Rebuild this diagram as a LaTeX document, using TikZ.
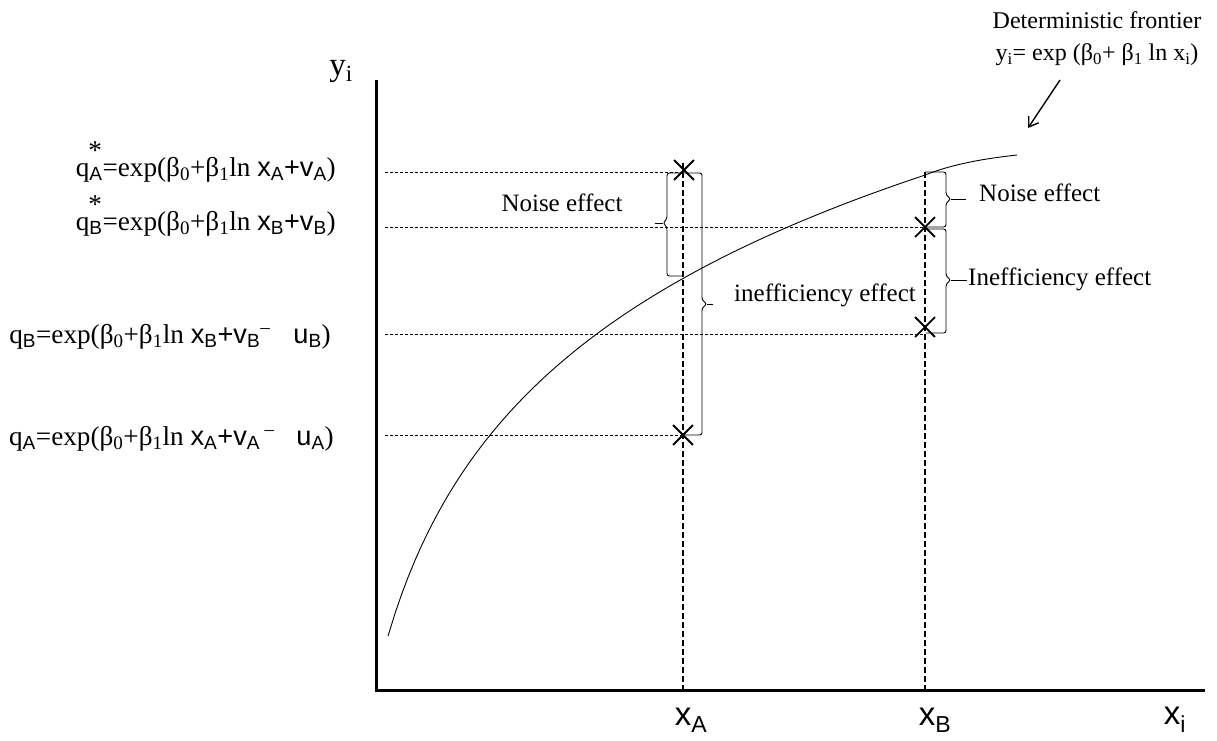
\documentclass[tikz,border=0pt]{standalone}
\usepackage{fontspec}
\setmainfont{Liberation Serif}
\setsansfont{Liberation Sans}
\usetikzlibrary{shapes.misc,arrows.meta}
\newcommand{\mysub}[1]{\textsubscript{#1}}
\newcommand{\ssub}[1]{\textsubscript{\sffamily #1}}
\newcommand{\myast}{\llap{\raisebox{0.6em}{*\hspace{0.5pt}}}}
\begin{document}
\begin{tikzpicture}[x=1pt,y=-1pt,
  axisline/.style={line width=3pt},
  guide/.style={line width=0.8pt, dash pattern=on 3pt off 2pt},
  drop/.style={line width=1.7pt, dash pattern=on 6pt off 3pt},
  xmark/.style={cross out, draw, line width=1.8pt, minimum size=18pt, inner sep=0pt},
  bracket/.style={line width=0.9pt, rounded corners=2.5pt},
  lbl/.style={font=\fontsize{25}{29}\selectfont, inner sep=0pt},
  formula/.style={font=\fontsize{27.2}{30}\selectfont, inner sep=0pt, anchor=base east},
  axlbl/.style={font=\sffamily\fontsize{33}{36}\selectfont, inner sep=0pt}]
\useasboundingbox (0,0) rectangle (1217,740);
% axes
\coordinate (O) at (376,690);
\coordinate (Ytop) at (376,80);
\coordinate (Xend) at (1205,690);
\draw[axisline] (Ytop) -- (O) -- (Xend);
\node[font=\fontsize{33}{36}\selectfont, inner sep=0pt] (ylbl) at (341,71) {y\mysub{i}};
\node[axlbl] (xAlbl) at (691,720) {x\textsubscript{A}};
\node[axlbl] (xBlbl) at (935,720) {x\textsubscript{B}};
\node[axlbl] (xilbl) at (1175,720) {x\textsubscript{i}};
% frontier
\coordinate (fEnd) at (1017,155);
\draw[line width=0.9pt] plot[domain=388:925, samples=80] (\x,{1440-198*ln(\x-330)})
  .. controls (955,163) and (990,158) .. (fEnd);
% points
\coordinate (XA) at (683,690);
\coordinate (XB) at (925,690);
\coordinate (TA) at (683,163);
\coordinate (TB) at (925,172);
\draw[drop] (TA) -- (XA);
\draw[drop] (TB) -- (XB);
\node[xmark] (qAs) at (684,170) {};
\node[xmark] (qA) at (683,435) {};
\node[xmark] (qBs) at (925,227) {};
\node[xmark] (qB) at (925,327) {};
% left labels
\node[formula] (LqAs) at (336,176) {q\ssub{A}\myast=exp(β\mysub{0}+β\mysub{1}ln {\sffamily x\ssub{A}+v\ssub{A}})};
\node[formula] (LqBs) at (336,230) {q\ssub{B}\myast=exp(β\mysub{0}+β\mysub{1}ln {\sffamily x\ssub{B}+v\ssub{B}})};
\node[formula] (LqB) at (331,343) {q\ssub{B}=exp(β\mysub{0}+β\mysub{1}ln {\sffamily x\ssub{B}+v\ssub{B}}\textsuperscript{–}\hspace{0.85em}{\sffamily u\ssub{B}})};
\node[formula] (LqA) at (334,445) {q\ssub{A}=exp(β\mysub{0}+β\mysub{1}ln {\sffamily x\ssub{A}+v\ssub{A}}\,\textsuperscript{–}\hspace{0.8em}{\sffamily u\ssub{A}})};
% guide lines
\coordinate (gAs) at (385,172);
\coordinate (gBs) at (385,227);
\coordinate (gB) at (385,334);
\coordinate (gA) at (385,435);
\draw[guide] (gAs) -- (gAs -| qAs);
\draw[guide] (gBs) -- (gBs -| qBs);
\draw[guide] (gB) -- (gB -| qB);
\draw[guide] (gA) -- (gA -| qA);
% braces
\draw[bracket] (683,173) -- (667,173) -- (667,219) -- (663,223) -- (667,227) -- (667,276) -- (683,276);
\coordinate (tipAn) at (663,223);
\coordinate (endAn) at (655,223);
\draw[line width=0.9pt] (tipAn) -- (endAn);
\draw[bracket] (683,173) -- (702,173) -- (702,300) -- (707,304) -- (702,308) -- (702,435) -- (684,435);
\coordinate (tipAi) at (707,304);
\coordinate (endAi) at (713,304);
\draw[line width=0.9pt] (tipAi) -- (endAi);
\draw[bracket] (925,172) -- (946,172) -- (946,195) -- (951,199) -- (946,203) -- (946,227) -- (926,227);
\coordinate (tipBn) at (951,199);
\coordinate (endBn) at (966,199);
\draw[line width=0.9pt] (tipBn) -- (endBn);
\draw[bracket] (926,229) -- (946,229) -- (946,276) -- (951,280) -- (946,284) -- (946,333) -- (926,333);
\coordinate (tipBi) at (951,280);
\coordinate (endBi) at (967,280);
\draw[line width=0.9pt] (tipBi) -- (endBi);
% effect labels
\node[lbl] (noiseA) at (562,203) {Noise effect};
\node[lbl] (ineffA) at (825,295) {inefficiency effect};
\node[lbl, anchor=west] (noiseB) at (979,193) {Noise effect};
\node[lbl, anchor=west] (ineffB) at (968,279) {Inefficiency effect};
% frontier label and arrow
\node[lbl, align=center, font=\fontsize{24}{32}\selectfont] (frontier) at (1097,39) {Deterministic frontier\\y\mysub{i}= exp (β\mysub{0}+ β\mysub{1} ln x\mysub{i})};
\coordinate (arrS) at (1060,80);
\coordinate (arrE) at (1028,128);
\draw[line width=1.4pt, -{Straight Barb[length=9pt,width=12pt]}] (arrS) -- (arrE);
\end{tikzpicture}
\end{document}
